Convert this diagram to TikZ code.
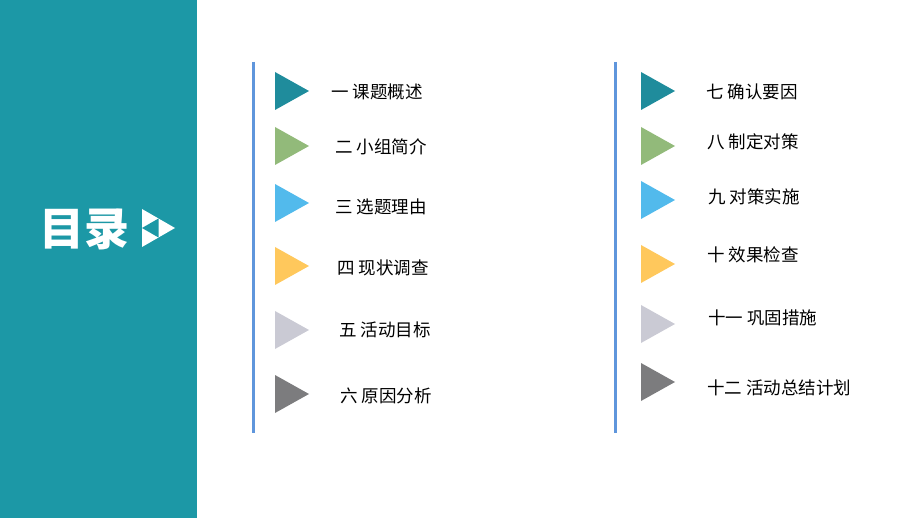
\documentclass[tikz,border=0pt]{standalone}
\usepackage{fontspec}
\setmainfont{Noto Sans CJK SC}
\usepackage{tikz}

\definecolor{panel}{RGB}{28,152,166}
\definecolor{rule}{RGB}{95,150,220}
\definecolor{cteal}{RGB}{31,140,156}
\definecolor{cgreen}{RGB}{146,186,122}
\definecolor{cblue}{RGB}{82,186,236}
\definecolor{cyellow}{RGB}{255,200,92}
\definecolor{clight}{RGB}{202,202,212}
\definecolor{cgray}{RGB}{124,124,126}

\begin{document}
\begin{tikzpicture}[x=1pt,y=-1pt,
    item/.style={anchor=west,inner sep=0pt,font=\fontsize{17.5}{17.5}\selectfont},
    bar/.style={rule,line width=3pt}]
    \useasboundingbox (0,0) rectangle (920,518);

    % Left Panel
    \fill[panel] (0,0) rectangle (197,518);
    \node[anchor=west,inner sep=0pt,text=white,font=\fontsize{45}{45}\selectfont\bfseries] (title) at (39,229) {目录};

    % -- title mark
    \fill[white] (142,209) -- (175,228) -- (142,247) -- cycle;
    \fill[panel] (142,228) -- (158.5,218.5) -- (158.5,237.5) -- cycle;

    % Draw Column Bars
    \coordinate (l1) at (253,62);
    \coordinate (l2) at (253,433);
    \coordinate (r1) at (615,62);
    \coordinate (r2) at (615,433);
    \draw[bar] (l1) -- (l2);
    \draw[bar] (r1) -- (r2);

    % Left Column
    \fill[cteal] (275,72) -- (309,91) -- (275,110) -- cycle;
    \fill[cgreen] (275,127) -- (309,146) -- (275,165) -- cycle;
    \fill[cblue] (275,184) -- (309,203) -- (275,222) -- cycle;
    \fill[cyellow] (275,247) -- (309,266) -- (275,285) -- cycle;
    \fill[clight] (275,311) -- (309,330) -- (275,349) -- cycle;
    \fill[cgray] (275,375) -- (309,394) -- (275,413) -- cycle;

    \node[item] (s1) at (331,92) {一 课题概述};
    \node[item] (s2) at (335,147) {二 小组简介};
    \node[item] (s3) at (335,207) {三 选题理由};
    \node[item] (s4) at (337,268) {四 现状调查};
    \node[item] (s5) at (339,330) {五 活动目标};
    \node[item] (s6) at (340,396) {六 原因分析};

    % Right Column
    \fill[cteal] (641,72) -- (675,91) -- (641,110) -- cycle;
    \fill[cgreen] (641,127) -- (675,146) -- (641,165) -- cycle;
    \fill[cblue] (641,181) -- (675,200) -- (641,219) -- cycle;
    \fill[cyellow] (641,245) -- (675,264) -- (641,283) -- cycle;
    \fill[clight] (641,305) -- (675,324) -- (641,343) -- cycle;
    \fill[cgray] (641,363) -- (675,382) -- (641,401) -- cycle;

    \node[item] (s7) at (706,92) {七 确认要因};
    \node[item] (s8) at (707,142) {八 制定对策};
    \node[item] (s9) at (708,197) {九 对策实施};
    \node[item] (s10) at (707,255) {十 效果检查};
    \node[item] (s11) at (708,318) {十一 巩固措施};
    \node[item] (s12) at (707,388) {十二 活动总结计划};
\end{tikzpicture}
\end{document}
